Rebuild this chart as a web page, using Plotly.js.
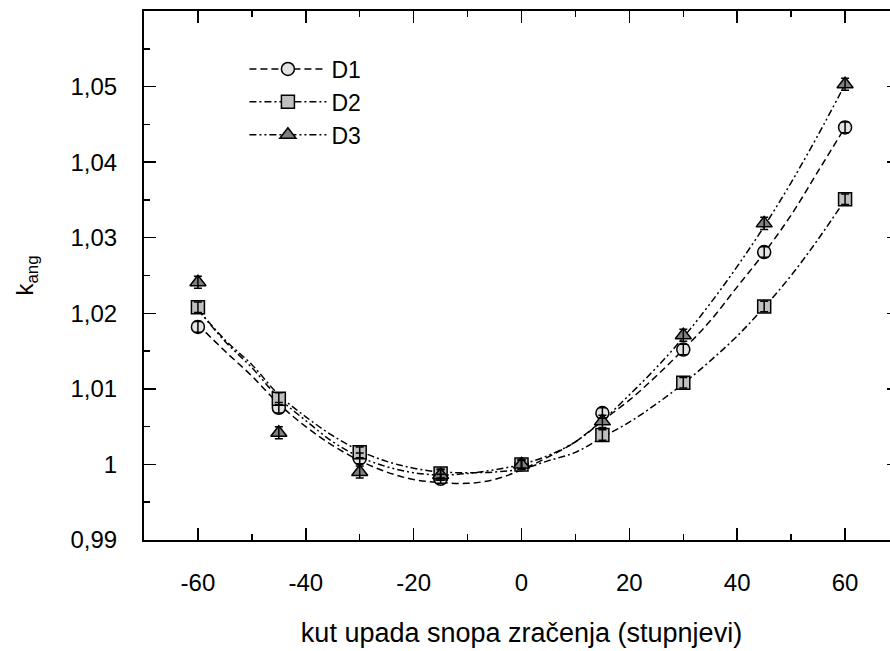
<!DOCTYPE html>
<html>
<head>
<meta charset="utf-8">
<script src="https://cdn.plot.ly/plotly-3.0.1.min.js"></script>
<style>
html,body{margin:0;padding:0;overflow:hidden;background:#fff;}
#chart{width:905px;height:651px;}
</style>
</head>
<body>
<div id="chart"></div>
<script>
// measured points
var angles = [-60, -45, -30, -15, 0, 15, 30, 45, 60];
var d1 = [1.0182, 1.0075, 1.0008, 0.9981, 1.0000, 1.0068, 1.0152, 1.0281, 1.0446];
var d2 = [1.0208, 1.0087, 1.0016, 0.9988, 1.0000, 1.0039, 1.0108, 1.0209, 1.0351];
var d3 = [1.0241, 1.0042, 0.9990, 0.9986, 1.0000, 1.0057, 1.0171, 1.0319, 1.0503];
var d1Err = [0.0007, 0.0007, 0.0007, 0.0006, 0.0006, 0.0007, 0.0007, 0.0007, 0.0007];
var d2Err = [0.0007, 0.0008, 0.0007, 0.0006, 0.0006, 0.0007, 0.0007, 0.0007, 0.0007];
var d3Err = [0.0008, 0.0008, 0.0008, 0.0007, 0.0006, 0.0008, 0.0008, 0.0008, 0.0008];

// fitted curves
var fitX = [-60,-55,-50,-45,-40,-35,-30,-25,-20,-15,-10,-5,0,5,10,15,20,25,30,35,40,45,50,55,60];
var fit1 = [1.0185,1.0150,1.0117,1.0080,1.0050,1.0025,1.0005,0.9990,0.9980,0.9976,0.9975,0.9980,0.9993,1.0010,1.0030,1.0058,1.0085,1.0117,1.0152,1.0190,1.0235,1.0280,1.0330,1.0388,1.0446];
var fit2 = [1.0205,1.0165,1.0132,1.0092,1.0063,1.0038,1.0018,1.0004,0.9995,0.9990,0.9989,0.9990,0.9994,1.0005,1.0016,1.0036,1.0056,1.0080,1.0107,1.0137,1.0170,1.0208,1.0250,1.0298,1.0350];
var fit3 = [1.0205,1.0163,1.0128,1.0088,1.0058,1.0030,1.0010,0.9997,0.9989,0.9986,0.9988,0.9993,1.0000,1.0012,1.0030,1.0058,1.0092,1.0128,1.0168,1.0213,1.0262,1.0315,1.0373,1.0436,1.0503];

var xTickVals = [-60, -40, -20, 0, 20, 40, 60];
var xTickText = ['-60', '-40', '-20', '0', '20', '40', '60'];
var yTickVals = [0.99, 1.00, 1.01, 1.02, 1.03, 1.04, 1.05];
var yTickText = ['0,99', '1', '1,01', '1,02', '1,03', '1,04', '1,05'];

var names = ['D1', 'D2', 'D3'];
var FONT = 'Liberation Sans, Arial, sans-serif';

var dashes = ['7px,4px', '7px,3px,2px,3px', '7px,3px,2px,3px,2px,3px'];
var symbols = ['circle', 'square', 'triangle-up'];
var fills = ['#e3e3e3', '#c0c0c0', '#808080'];
var sizes = [13, 13, 14];
var pts = [d1, d2, d3];
var errs = [d1Err, d2Err, d3Err];
var fits = [fit1, fit2, fit3];

var traces = [];
// curves
for (var i = 0; i < 3; i++) {
  traces.push({
    x: fitX, y: fits[i], type: 'scatter', mode: 'lines',
    line: {color: '#000', width: 1.5, dash: dashes[i], shape: 'spline'},
    showlegend: false, hoverinfo: 'skip'
  });
}
// markers
for (var i = 0; i < 3; i++) {
  traces.push({
    x: angles, y: pts[i], type: 'scatter', mode: 'markers', name: names[i],
    marker: {symbol: symbols[i], size: sizes[i], color: fills[i], line: {color: '#000', width: 1.5}},
    showlegend: false
  });
}
// error bars on top of markers
for (var i = 0; i < 3; i++) {
  traces.push({
    x: angles, y: pts[i], type: 'scatter', mode: 'markers',
    marker: {size: 1, opacity: 0},
    error_y: {type: 'data', array: errs[i], visible: true, color: '#000', thickness: 1.5, width: 4},
    showlegend: false, hoverinfo: 'skip'
  });
}
// legend entries (line + marker sample, no data)
for (var i = 0; i < 3; i++) {
  traces.push({
    x: [null], y: [null], type: 'scatter', mode: 'lines+markers', name: names[i],
    line: {color: '#000', width: 1.5, dash: dashes[i]},
    marker: {symbol: symbols[i], size: sizes[i], color: fills[i], line: {color: '#000', width: 1.5}}
  });
}

var axisCommon = {
  showline: true, linecolor: '#000', linewidth: 2,
  mirror: 'ticks', ticks: 'inside', ticklen: 12, tickwidth: 1.5, tickcolor: '#000',
  showgrid: false, zeroline: false,
  tickfont: {family: FONT, size: 24, color: '#000'}
};

var layout = {
  width: 905, height: 651,
  margin: {l: 144, r: 6, t: 11, b: 111},
  paper_bgcolor: '#fff', plot_bgcolor: '#fff',
  showlegend: true,
  legend: {x: 0.133, y: 0.931, xanchor: 'left', yanchor: 'top', bgcolor: 'rgba(0,0,0,0)',
           font: {family: FONT, size: 23, color: '#000'}, itemwidth: 77},
  xaxis: Object.assign({}, axisCommon, {
    range: [-70, 70], tickmode: 'array', tickvals: xTickVals, ticktext: xTickText,
    ticklabelstandoff: 20,
    minor: {dtick: 10, tick0: 0, ticks: 'inside', ticklen: 6, tickwidth: 1.5, tickcolor: '#000'},
    title: {text: 'kut upada snopa zračenja (stupnjevi)', font: {family: FONT, size: 27, color: '#000'}, standoff: 28}
  }),
  yaxis: Object.assign({}, axisCommon, {
    range: [0.99, 1.06], tickmode: 'array', tickvals: yTickVals, ticktext: yTickText,
    ticklabelstandoff: 20,
    minor: {dtick: 0.005, tick0: 0.99, ticks: 'inside', ticklen: 6, tickwidth: 1.5, tickcolor: '#000'},
    title: {text: 'k<sub>ang</sub>', font: {family: FONT, size: 24, color: '#000'}, standoff: 30}
  })
};

Plotly.newPlot('chart', traces, layout, {staticPlot: true, displayModeBar: false});
</script>
</body>
</html>
